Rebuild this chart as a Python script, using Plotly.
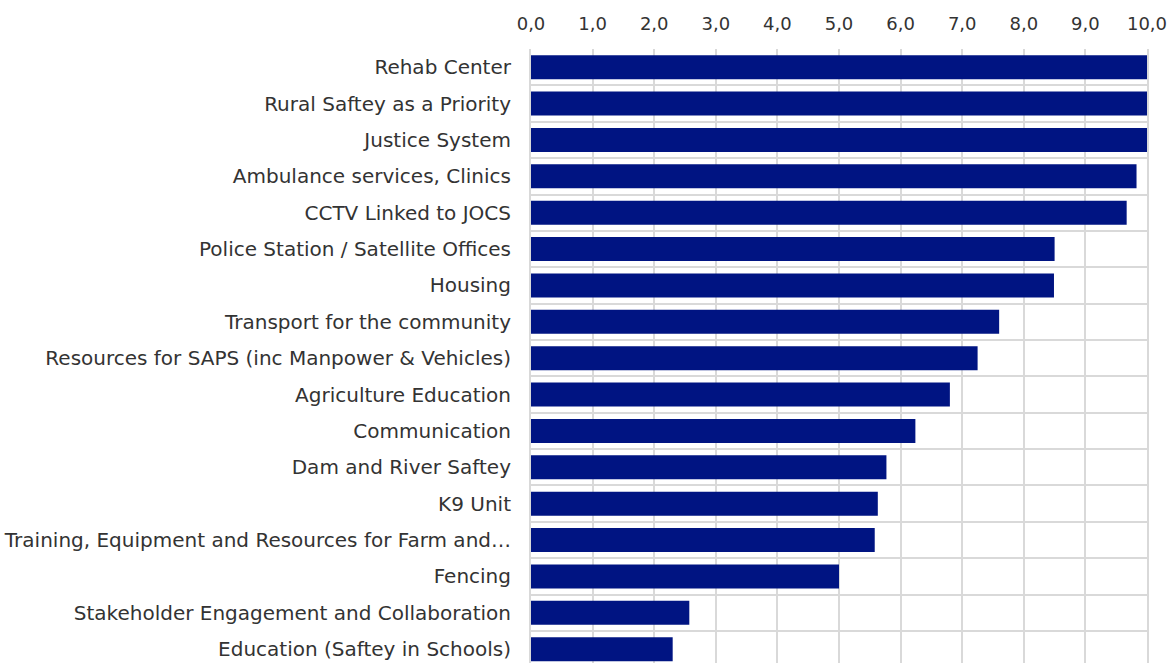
import plotly.graph_objects as go

# Priority scores per focus area (top to bottom as displayed)
categories = [
    "Rehab Center",
    "Rural Saftey as a Priority",
    "Justice System",
    "Ambulance services, Clinics",
    "CCTV Linked to JOCS",
    "Police Station / Satellite Offices",
    "Housing",
    "Transport for the community",
    "Resources for SAPS (inc Manpower & Vehicles)",
    "Agriculture Education",
    "Communication",
    "Dam and River Saftey",
    "K9 Unit",
    "Training, Equipment and Resources for Farm and\u2026",
    "Fencing",
    "Stakeholder Engagement and Collaboration",
    "Education (Saftey in Schools)",
]
scores = [10.0, 10.0, 10.0, 9.83, 9.67, 8.50, 8.49, 7.60, 7.25, 6.80,
          6.24, 5.77, 5.63, 5.58, 5.00, 2.57, 2.30]
x_ticks = [0, 1, 2, 3, 4, 5, 6, 7, 8, 9, 10]

BAR_COLOR = "#001482"
GRID_COLOR = "#d9d9d9"
TEXT_COLOR = "#333333"
LABEL_FONT = "Century Gothic, DejaVu Sans, sans-serif"

fig = go.Figure(
    go.Bar(
        x=scores,
        y=categories,
        orientation="h",
        width=0.66,
        marker=dict(color=BAR_COLOR, line=dict(width=0)),
        hoverinfo="x+y",
    )
)

fig.update_layout(
    width=1176,
    height=663,
    margin=dict(l=531, r=29, t=49, b=0, pad=0),
    paper_bgcolor="white",
    plot_bgcolor="white",
    separators=",.",
    showlegend=False,
    font=dict(family=LABEL_FONT, size=18, color=TEXT_COLOR),
    xaxis=dict(
        side="top",
        range=[0, 10],
        tickvals=x_ticks,
        tickformat=".1f",
        showgrid=True,
        gridcolor=GRID_COLOR,
        gridwidth=2,
        zeroline=False,
        showline=False,
        ticks="",
        ticklabelstandoff=14,
        tickfont=dict(family=LABEL_FONT, size=18, color=TEXT_COLOR),
    ),
    yaxis=dict(
        type="category",
        categoryorder="array",
        categoryarray=categories,
        range=[16.38, -0.5],
        tickson="boundaries",
        showgrid=True,
        gridcolor=GRID_COLOR,
        gridwidth=2,
        showline=True,
        linecolor=GRID_COLOR,
        linewidth=2,
        mirror=True,
        ticks="",
        ticklabelstandoff=14,
        tickfont=dict(family=LABEL_FONT, size=20, color=TEXT_COLOR),
    ),
)

fig.write_html("out.html")
